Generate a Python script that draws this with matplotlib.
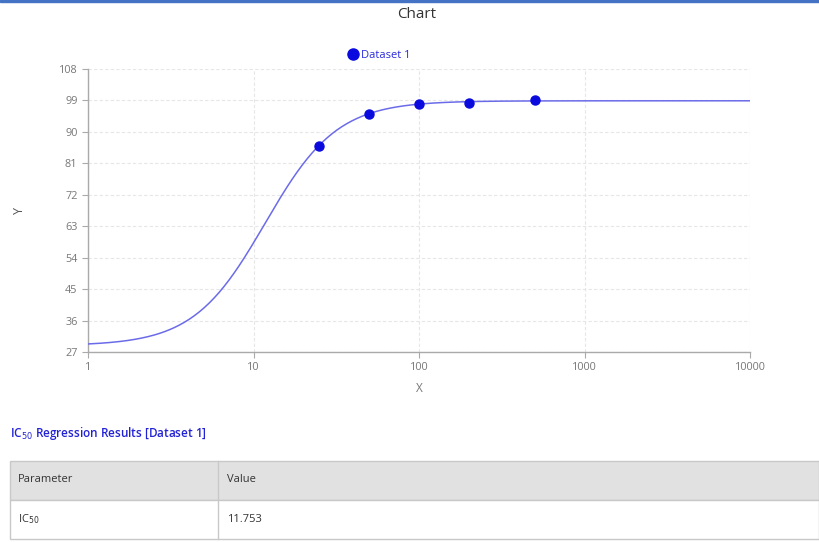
import numpy as np
import matplotlib
matplotlib.use("Agg")
import matplotlib.pyplot as plt
from matplotlib.patches import Rectangle
from matplotlib.lines import Line2D
from matplotlib.ticker import FixedLocator, NullLocator, FixedFormatter

plt.rcParams['font.family'] = ['Open Sans', 'DejaVu Sans']

# Data
x_data = [25, 50, 100, 200, 500]
y_data = [86.0, 95.1, 98.0, 98.3, 99.1]
series_name = "Dataset 1"

# Fitted 4PL parameters (regression result)
fit_bottom = 28.8
fit_top = 98.9
fit_ic50 = 11.753
fit_hill = 2.0

x_ticks = [1, 10, 100, 1000, 10000]
x_tick_labels = ["1", "10", "100", "1000", "10000"]
y_ticks = [27, 36, 45, 54, 63, 72, 81, 90, 99, 108]

table_header = ["Parameter", "Value"]
table_param = "IC$_{50}$"
table_value = "11.753"

W, H = 819, 542
fig = plt.figure(figsize=(W / 100, H / 100), dpi=100)

def fx(px):
    return px / W

def fy(py):
    return 1 - py / H

# top blue bar
fig.patches.append(Rectangle((0, fy(2)), 1, 2 / H, transform=fig.transFigure,
                             color="#4472c4", zorder=0))

ax_l, ax_r, ax_t, ax_b = 88, 750, 69, 352
ax = fig.add_axes([fx(ax_l), fy(ax_b), (ax_r - ax_l) / W, (ax_b - ax_t) / H])
ax.set_xscale("log")
ax.set_xlim(1, 10000)
ax.set_ylim(27, 108)

xs = np.logspace(0, 4, 400)
ys = fit_bottom + (fit_top - fit_bottom) / (1 + (fit_ic50 / xs) ** fit_hill)
ax.plot(xs, ys, color="#6b6bea", lw=1.1, zorder=3)
ax.plot(x_data, y_data, "o", color="#0a0adf", ms=6.5, zorder=4)

ax.xaxis.set_major_locator(FixedLocator(x_ticks))
ax.xaxis.set_major_formatter(FixedFormatter(x_tick_labels))
ax.xaxis.set_minor_locator(NullLocator())
ax.set_yticks(y_ticks)

for s in ["top", "right"]:
    ax.spines[s].set_visible(False)
for s in ["left", "bottom"]:
    ax.spines[s].set_color("#aaaaaa")
    ax.spines[s].set_linewidth(1.0)
ax.tick_params(axis="both", colors="#aaaaaa", labelcolor="#777777",
               labelsize=7.8, length=4, width=0.8)
ax.grid(True, color="#e6e6e6", lw=0.8, ls=(0, (3, 2)))
ax.set_axisbelow(True)

ax.set_xlabel("X", color="#777777", fontsize=8.5, labelpad=6)
ax.set_ylabel("Y", color="#555555", fontsize=9, rotation=90)
ax.yaxis.set_label_coords((26 - ax_l) / (ax_r - ax_l), 0.5)

fig.text(fx(417), fy(14), "Chart", ha="center", va="center", fontsize=11, color="#333333")

handle = Line2D([], [], marker="o", ls="", color="#0a0adf", ms=8)
leg = ax.legend([handle], [series_name], loc="center",
                bbox_to_anchor=(fx(379), fy(55)), bbox_transform=fig.transFigure,
                frameon=False, fontsize=8, handletextpad=0.3, borderpad=0,
                handlelength=1.0)
for t in leg.get_texts():
    t.set_color("#2a2ae0")

# Regression results heading
fig.text(fx(10), fy(433), "IC$_{50}$ Regression Results [Dataset 1]", ha="left",
         va="center", fontsize=8.5, color="#2323d6", fontweight="semibold")

# Table
tx0, tx1, tcol = 10, 819, 218
rows = [(461, 500, "#e1e1e1"), (500, 539, "#ffffff")]
for (y0, y1, c) in rows:
    fig.patches.append(Rectangle((fx(tx0), fy(y1)), (tx1 - tx0) / W, (y1 - y0) / H,
                                 transform=fig.transFigure, facecolor=c,
                                 edgecolor="#c8c8c8", lw=1.0, zorder=1))
fig.add_artist(Line2D([fx(tcol), fx(tcol)], [fy(461), fy(539)], color="#c8c8c8",
                      lw=1.0, transform=fig.transFigure))
fig.text(fx(18), fy(480), table_header[0], ha="left", va="center", fontsize=8, color="#333333")
fig.text(fx(227), fy(480), table_header[1], ha="left", va="center", fontsize=8, color="#333333")
fig.text(fx(18), fy(519), table_param, ha="left", va="center", fontsize=8, color="#333333")
fig.text(fx(227), fy(519), table_value, ha="left", va="center", fontsize=8, color="#333333")

fig.savefig("out.png", dpi=100)
